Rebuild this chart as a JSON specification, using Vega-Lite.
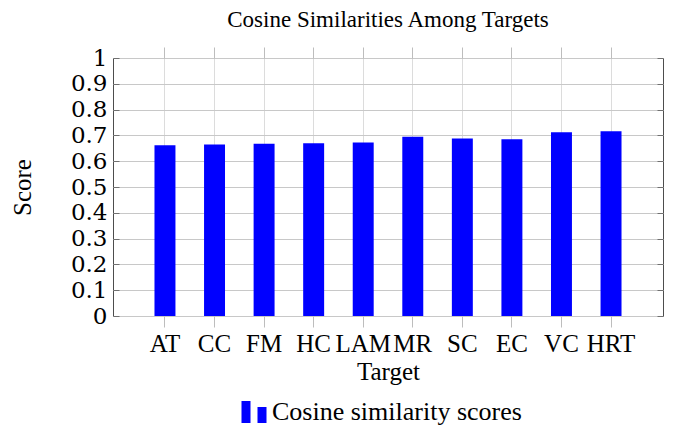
{
  "$schema": "https://vega.github.io/schema/vega-lite/v6.json",
  "width": 550,
  "height": 258,
  "autosize": {"type": "none"},
  "padding": {"left": 113, "top": 58, "right": 15, "bottom": 114},
  "title": {
    "text": "Cosine Similarities Among Targets",
    "font": "Liberation Serif",
    "fontSize": 23,
    "fontWeight": "normal",
    "color": "black",
    "offset": 15
  },
  "data": {
    "values": [
      {"target": "AT", "score": 0.662},
      {"target": "CC", "score": 0.665},
      {"target": "FM", "score": 0.668},
      {"target": "HC", "score": 0.670},
      {"target": "LAM", "score": 0.672},
      {"target": "MR", "score": 0.695},
      {"target": "SC", "score": 0.688},
      {"target": "EC", "score": 0.685},
      {"target": "VC", "score": 0.712},
      {"target": "HRT", "score": 0.716}
    ]
  },
  "layer": [
    {
      "mark": {"type": "bar"},
      "encoding": {
        "x": {
          "field": "target",
          "type": "nominal",
          "sort": null,
          "scale": {"paddingInner": 0.577, "paddingOuter": 0.837},
          "axis": {
            "orient": "bottom",
            "title": "Target",
            "labelAngle": 0,
            "labelOverlap": false,
            "bandPosition": 0.5,
            "grid": true,
            "gridColor": "#dcdcdc",
            "gridWidth": 1,
            "ticks": true,
            "tickSize": 11,
            "tickColor": "#bdbdbd",
            "tickBand": "center",
            "domain": false,
            "labelPadding": 4,
            "labelFont": "Liberation Serif",
            "labelFontSize": 25,
            "labelColor": "black",
            "titleFont": "Liberation Serif",
            "titleFontSize": 25,
            "titleFontWeight": "normal",
            "titleColor": "black",
            "titlePadding": 3
          }
        },
        "y": {
          "field": "score",
          "type": "quantitative",
          "scale": {"domain": [0, 1], "nice": false},
          "axis": {
            "orient": "left",
            "title": "Score",
            "values": [0, 0.1, 0.2, 0.3, 0.4, 0.5, 0.6, 0.7, 0.8, 0.9, 1],
            "format": ".1~f",
            "labelOverlap": false,
            "grid": true,
            "gridColor": "#c8c8c8",
            "ticks": true,
            "tickSize": -6,
            "tickColor": "#707070",
            "domain": false,
            "labelPadding": 12,
            "labelFont": "DejaVu Serif",
            "labelFontSize": 23,
            "labelColor": "black",
            "titleFont": "Liberation Serif",
            "titleFontSize": 25,
            "titleFontWeight": "normal",
            "titleColor": "black",
            "titlePadding": 35
          }
        },
        "color": {
          "datum": "Cosine similarity scores",
          "type": "nominal",
          "scale": {"range": ["#0000ff"]},
          "legend": {
            "title": null,
            "orient": "none",
            "legendX": 128,
            "legendY": 341,
            "symbolType": "M-1,-0.88H-0.28V0.88H-1Z M0.28,-0.4H1V0.88H0.28Z",
            "symbolSize": 625,
            "symbolStrokeWidth": 0,
            "labelOffset": 5,
            "labelLimit": 0,
            "labelFont": "Liberation Serif",
            "labelFontSize": 26,
            "labelColor": "black",
            "padding": 0
          }
        }
      }
    },
    {
      "mark": {"type": "bar", "opacity": 0},
      "encoding": {
        "x": {
          "field": "target",
          "type": "nominal",
          "sort": null,
          "axis": {
            "orient": "top",
            "title": null,
            "labels": false,
            "grid": false,
            "bandPosition": 0.5,
            "ticks": true,
            "tickSize": 11,
            "tickColor": "#bdbdbd",
            "domain": false
          }
        },
        "y": {
          "field": "score",
          "type": "quantitative",
          "axis": {
            "orient": "right",
            "title": null,
            "labels": false,
            "grid": false,
            "values": [0, 0.1, 0.2, 0.3, 0.4, 0.5, 0.6, 0.7, 0.8, 0.9, 1],
            "ticks": true,
            "tickSize": -6,
            "tickColor": "#707070",
            "domain": false
          }
        }
      }
    }
  ],
  "resolve": {"axis": {"x": "independent", "y": "independent"}},
  "config": {
    "view": {"stroke": "#4d4d4d", "strokeWidth": 1},
    "background": "white"
  }
}
